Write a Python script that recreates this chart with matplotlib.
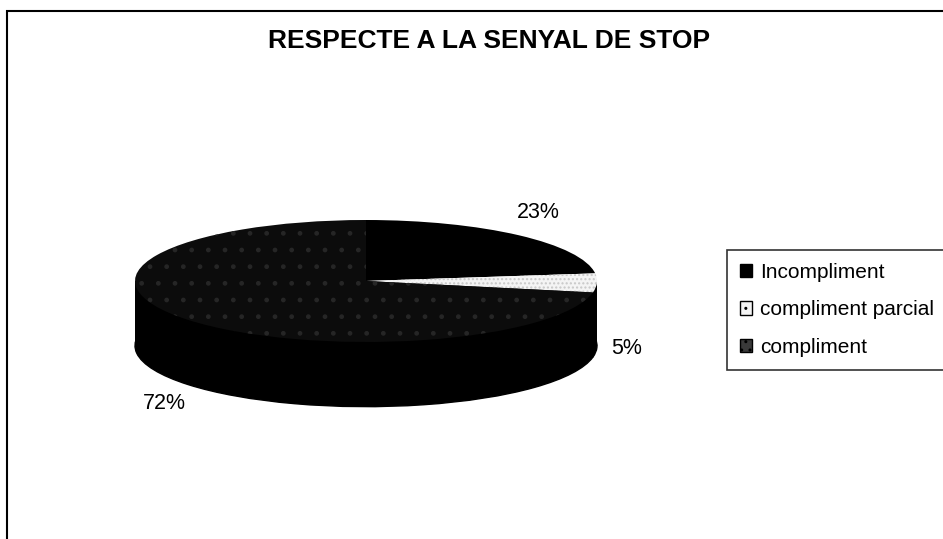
import matplotlib
matplotlib.use("Agg")
import matplotlib.pyplot as plt
import numpy as np
from matplotlib.patches import Rectangle, Patch

plt.rcParams['font.family'] = ['Liberation Sans', 'DejaVu Sans']

# data
labels = ['Incompliment', 'compliment parcial', 'compliment']
values = [23, 5, 72]
pct_labels = ['23%', '5%', '72%']
top_colors = ['#000000', '#f4f4f4', '#0c0c0c']
hatch_colors = ['#000000', '#c8c8c8', '#262626']

W, H = 943, 539
fig = plt.figure(figsize=(W / 100, H / 100), dpi=100)

# frame round the chart area (scan edges)
fig.add_artist(Rectangle((7 / W, -0.01), 1.0, (H - 11) / H + 0.01,
                         transform=fig.transFigure, fill=False,
                         edgecolor='black', linewidth=1.5))

fig.text(489 / W, 1 - 41 / H, 'RESPECTE A LA SENYAL DE STOP',
         ha='center', va='center', fontsize=19, fontweight='bold')

# pie axes: 1 unit = 231 px across, 61 px down
rx, ry = 231, 61
cx, cy = 366, H - 281
depth = 1.06
x0, x1 = -1.25, 1.25
y0, y1 = -2.6, 1.6
ax = fig.add_axes([(cx + x0 * rx) / W, (cy + y0 * ry) / H,
                   (x1 - x0) * rx / W, (y1 - y0) * ry / H])

start = 90
# bottom and side of the cylinder
ax.pie(values, startangle=start, counterclock=False, center=(0, -depth),
       colors=['black'] * 3, radius=1, frame=True,
       wedgeprops=dict(edgecolor='black', linewidth=1))
ax.add_patch(Rectangle((-1, -depth), 2, depth, facecolor='black',
                       edgecolor='none'))
wedges, _ = ax.pie(values, startangle=start, counterclock=False,
                   colors=top_colors, radius=1, frame=True,
                   wedgeprops=dict(linewidth=0))
for w, hc in zip(wedges, hatch_colors):
    w.set_edgecolor(hc)
    w.set_linewidth(0)
wedges[1].set_hatch('....')
wedges[2].set_hatch('.')

ax.set_aspect('auto')
ax.set_xlim(x0, x1)
ax.set_ylim(y0, y1)
ax.axis('off')

# percentage labels round the pie
ang = start
for v, t in zip(values, pct_labels):
    mid = np.deg2rad(ang - v * 3.6 / 2)
    ang -= v * 3.6
    lx = 1.13 * np.cos(mid)
    ly = 1.5 * np.sin(mid)
    if ly < 0:
        ly -= depth
    ax.text(lx, ly, t, ha='center', va='center', fontsize=15.5)

handles = [Patch(facecolor=c, edgecolor='black', hatch=h, linewidth=1)
           for c, h in zip(['#000000', '#f4f4f4', '#3a3a3a'], [None, '..', '..'])]
leg = fig.legend(handles, labels, loc='upper left',
                 bbox_to_anchor=(727 / W, 1 - 250 / H), borderaxespad=0,
                 fontsize=15, frameon=True, fancybox=False,
                 edgecolor='black', handlelength=0.6, handleheight=0.6,
                 handletextpad=0.4, borderpad=0.6, labelspacing=0.9)
leg.get_frame().set_linewidth(1.2)

fig.savefig('out.png', dpi=100, facecolor='white')
